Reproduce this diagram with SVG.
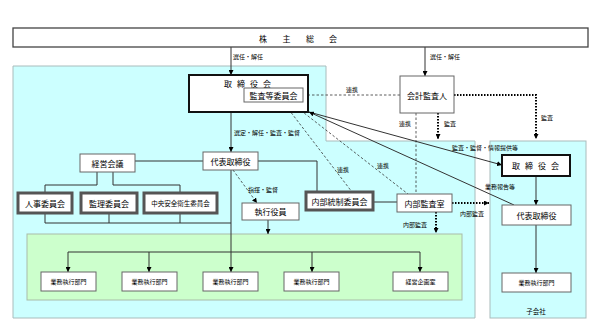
<svg xmlns="http://www.w3.org/2000/svg" width="600" height="329" viewBox="0 0 600 329">
<defs>
<marker id="ah" viewBox="0 0 10 10" refX="10" refY="5" markerWidth="5" markerHeight="5" orient="auto" markerUnits="userSpaceOnUse"><path d="M0,0 L10,5 L0,10 z" fill="#000"/></marker>
<style>
text{font-family:"Noto Sans CJK JP","Noto Sans",sans-serif;fill:#000;text-anchor:middle;dominant-baseline:central}
.bx{fill:#fff;stroke:#666;stroke-width:1}
.thk{fill:#fff;stroke:#111;stroke-width:2}
.dbl{fill:#fff;stroke:#555;stroke-width:3}
.t8{font-size:8px}
.t7{font-size:6.5px}
.lb{font-size:6px}
.ln{fill:none;stroke:#333;stroke-width:1}
.dash{fill:none;stroke:#333;stroke-width:0.8;stroke-dasharray:2.5 2}
.dot{fill:none;stroke:#000;stroke-width:2;stroke-dasharray:1.5 1.5}
</style>
</defs>
<rect width="600" height="329" fill="#fff"/>
<g id="regions">
<path d="M13,66 H326 V141 H475 V318 H13 Z" fill="#ccffff" stroke="#a9bcbc" stroke-width="1"/>
<rect x="490" y="141" width="96" height="177" fill="#ccffff" stroke="#a9bcbc" stroke-width="1"/>
<rect x="27" y="234" width="435" height="66" fill="#ccffcc" stroke="#a9bca9" stroke-width="1"/>
<text class="t7" x="536" y="311">子会社</text>
</g>
<g id="connectors">
<line class="ln" x1="231" y1="47" x2="231" y2="75" marker-end="url(#ah)"/>
<text class="lb" x="233" y="56" style="text-anchor:start">選任・解任</text>
<line class="ln" x1="425" y1="47" x2="425" y2="76" marker-end="url(#ah)"/>
<text class="lb" x="430" y="56" style="text-anchor:start">選任・解任</text>
<line class="ln" x1="244" y1="96" x2="218" y2="96" marker-end="url(#ah)"/>
<text class="lb" x="221" y="104">監査・監督</text>
<line class="ln" x1="231" y1="112" x2="231" y2="152" marker-end="url(#ah)"/>
<text class="lb" x="234" y="132" style="text-anchor:start">選定・解任・監査・監督</text>
<line class="ln" x1="135" y1="161" x2="203" y2="161"/>
<polyline class="ln" points="258,161 317,161 317,192"/>
<polyline class="ln" points="97,172 97,185 45,185 45,193"/>
<polyline class="ln" points="113,172 113,185 180,185 180,193"/>
<line class="ln" x1="45" y1="213" x2="45" y2="223"/>
<line class="ln" x1="109" y1="213" x2="109" y2="223"/>
<line class="ln" x1="180" y1="213" x2="180" y2="223"/>
<line class="ln" x1="45" y1="223" x2="231" y2="223"/>
<line class="ln" x1="231" y1="170" x2="231" y2="272" marker-end="url(#ah)"/>
<line class="dash" x1="233" y1="170" x2="257" y2="203" marker-end="url(#ah)"/>
<text class="lb" x="248" y="189" style="text-anchor:start">指揮・監督</text>
<line class="ln" x1="268" y1="220" x2="268" y2="234" marker-end="url(#ah)"/>
<line class="ln" x1="68" y1="252" x2="420" y2="252"/>
<line class="ln" x1="68" y1="252" x2="68" y2="272" marker-end="url(#ah)"/>
<line class="ln" x1="149" y1="252" x2="149" y2="272" marker-end="url(#ah)"/>
<line class="ln" x1="312" y1="252" x2="312" y2="272" marker-end="url(#ah)"/>
<line class="ln" x1="420" y1="252" x2="420" y2="272" marker-end="url(#ah)"/>
<line class="ln" x1="373" y1="202" x2="397" y2="202"/>
<line class="dash" x1="303" y1="95" x2="400" y2="95"/>
<text class="lb" x="352" y="89">連携</text>
<line class="dash" x1="283" y1="102" x2="352" y2="192"/>
<text class="lb" x="343" y="169">連携</text>
<line class="dash" x1="290" y1="102" x2="408" y2="194"/>
<text class="lb" x="383" y="165">連携</text>
<line class="dash" x1="416" y1="113" x2="416" y2="194"/>
<text class="lb" x="411" y="123" style="text-anchor:end">連携</text>
<line class="dot" x1="438" y1="113" x2="438" y2="139" marker-end="url(#ah)"/>
<text class="lb" x="444" y="123" style="text-anchor:start">監査</text>
<polyline class="dot" points="454,95 536,95 536,139" marker-end="url(#ah)"/>
<text class="lb" x="541" y="117" style="text-anchor:start">監査</text>
<line class="ln" x1="309" y1="112" x2="502" y2="165" marker-end="url(#ah)"/>
<text class="lb" x="485" y="147">監査・監督・情報提供等</text>
<line class="ln" x1="514" y1="205" x2="309" y2="112" marker-end="url(#ah)"/>
<text class="lb" x="500" y="186">業務報告等</text>
<line class="dot" x1="452" y1="203" x2="489" y2="203" marker-end="url(#ah)"/>
<text class="lb" x="472" y="213">内部監査</text>
<line class="dot" x1="436" y1="212" x2="436" y2="233" marker-end="url(#ah)"/>
<text class="lb" x="415" y="224">内部監査</text>
<line class="ln" x1="536" y1="176" x2="536" y2="205" marker-end="url(#ah)"/>
<line class="ln" x1="536" y1="225" x2="536" y2="273" marker-end="url(#ah)"/>
</g>
<g id="shareholders"><rect x="13" y="28" width="575" height="19" fill="#fff" stroke="#444" stroke-width="1.3"/><text class="t8" x="263 286.5 310 333" y="38">株主総会</text></g>
<g id="board"><rect class="thk" x="189" y="75" width="119" height="37"/><text class="t8" x="228 241 254 267" y="83">取締役会</text></g>
<g id="audit-committee"><rect class="bx" x="244" y="88" width="59" height="14"/><text class="t8" x="273.5" y="95">監査等委員会</text></g>
<g id="auditor"><rect class="bx" x="400" y="76" width="54" height="37"/><text class="t8" x="427" y="95">会計監査人</text></g>
<g id="rep"><rect class="bx" x="203" y="152" width="55" height="18"/><text class="t8" x="230.5" y="161">代表取締役</text></g>
<g id="mgmt-meeting"><rect class="bx" x="80" y="154" width="55" height="18"/><text class="t8" x="107.5" y="163">経営会議</text></g>
<g id="hr-committee"><rect class="dbl" x="18" y="193" width="54" height="20"/><text class="t8" x="45" y="203">人事委員会</text></g>
<g id="kanri-committee"><rect class="dbl" x="81" y="193" width="56" height="20"/><text class="t8" x="109" y="203">監理委員会</text></g>
<g id="safety-committee"><rect class="dbl" x="144" y="193" width="73" height="20"/><text class="t7" x="180.5" y="203">中央安全衛生委員会</text></g>
<g id="exec-officer"><rect class="bx" x="242" y="203" width="57" height="17"/><text class="t8" x="270.5" y="211.5">執行役員</text></g>
<g id="internal-control"><rect class="dbl" x="306" y="192" width="67" height="18"/><text class="t8" x="339.5" y="201">内部統制委員会</text></g>
<g id="internal-audit"><rect class="bx" x="397" y="194" width="55" height="18"/><text class="t8" x="424.5" y="203">内部監査室</text></g>
<g id="dept1"><rect class="bx" x="41" y="272" width="55" height="19"/><text class="lb" x="68.5" y="281.5">業務執行部門</text></g>
<g id="dept2"><rect class="bx" x="122" y="272" width="55" height="19"/><text class="lb" x="149.5" y="281.5">業務執行部門</text></g>
<g id="dept3"><rect class="bx" x="203" y="272" width="55" height="19"/><text class="lb" x="230.5" y="281.5">業務執行部門</text></g>
<g id="dept4"><rect class="bx" x="284" y="272" width="55" height="19"/><text class="lb" x="311.5" y="281.5">業務執行部門</text></g>
<g id="planning"><rect class="bx" x="393" y="272" width="55" height="19"/><text class="lb" x="420.5" y="281.5">経営企画室</text></g>
<g id="sub-board"><rect class="thk" x="502" y="155" width="68" height="21"/><text class="t8" x="516 529 542 555" y="165.5">取締役会</text></g>
<g id="sub-rep"><rect class="bx" x="502" y="205" width="69" height="20"/><text class="t8" x="536.5" y="215">代表取締役</text></g>
<g id="sub-dept"><rect class="bx" x="502" y="273" width="69" height="19"/><text class="lb" x="536.5" y="282.5">業務執行部門</text></g>
</svg>
